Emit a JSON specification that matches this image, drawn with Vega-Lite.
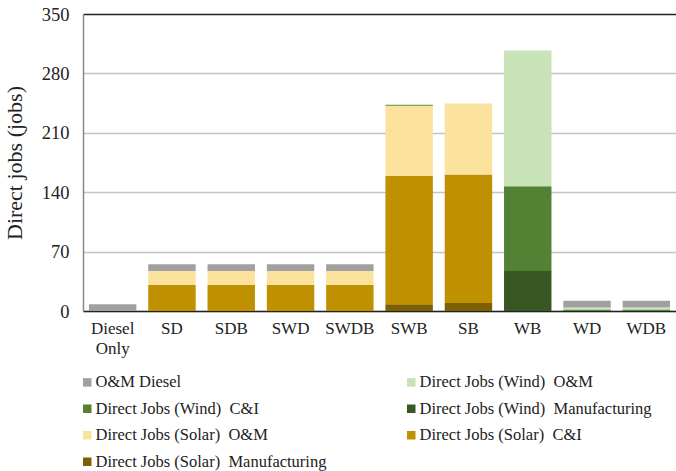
{
  "$schema": "https://vega.github.io/schema/vega-lite/v6.json",
  "autosize": "none",
  "width": 593,
  "height": 297,
  "padding": {"left": 83, "top": 14, "right": 0, "bottom": 160},
  "background": "white",
  "config": {
    "font": "Liberation Serif",
    "view": {"stroke": null},
    "axis": {"labelFont": "Liberation Serif", "titleFont": "Liberation Serif"},
    "legend": {"labelFont": "Liberation Serif", "titleFont": "Liberation Serif"}
  },
  "data": {
    "values": [
      {"scenario": "Diesel Only", "component": "O&M Diesel", "jobs": 8},
      {"scenario": "SD", "component": "Direct Jobs (Solar)\u00a0 C&I", "jobs": 31},
      {"scenario": "SD", "component": "Direct Jobs (Solar)\u00a0 O&M", "jobs": 16},
      {"scenario": "SD", "component": "O&M Diesel", "jobs": 8},
      {"scenario": "SDB", "component": "Direct Jobs (Solar)\u00a0 C&I", "jobs": 31},
      {"scenario": "SDB", "component": "Direct Jobs (Solar)\u00a0 O&M", "jobs": 16},
      {"scenario": "SDB", "component": "O&M Diesel", "jobs": 8},
      {"scenario": "SWD", "component": "Direct Jobs (Solar)\u00a0 C&I", "jobs": 31},
      {"scenario": "SWD", "component": "Direct Jobs (Solar)\u00a0 O&M", "jobs": 16},
      {"scenario": "SWD", "component": "O&M Diesel", "jobs": 8},
      {"scenario": "SWDB", "component": "Direct Jobs (Solar)\u00a0 C&I", "jobs": 31},
      {"scenario": "SWDB", "component": "Direct Jobs (Solar)\u00a0 O&M", "jobs": 16},
      {"scenario": "SWDB", "component": "O&M Diesel", "jobs": 8},
      {"scenario": "SWB", "component": "Direct Jobs (Solar)\u00a0 Manufacturing", "jobs": 8},
      {"scenario": "SWB", "component": "Direct Jobs (Solar)\u00a0 C&I", "jobs": 151.5},
      {"scenario": "SWB", "component": "Direct Jobs (Solar)\u00a0 O&M", "jobs": 82.5},
      {"scenario": "SWB", "component": "Direct Jobs (Wind)\u00a0 C&I", "jobs": 0.8},
      {"scenario": "SWB", "component": "Direct Jobs (Wind)\u00a0 O&M", "jobs": 0.8},
      {"scenario": "SB", "component": "Direct Jobs (Solar)\u00a0 Manufacturing", "jobs": 9.5},
      {"scenario": "SB", "component": "Direct Jobs (Solar)\u00a0 C&I", "jobs": 151.5},
      {"scenario": "SB", "component": "Direct Jobs (Solar)\u00a0 O&M", "jobs": 83.5},
      {"scenario": "WB", "component": "Direct Jobs (Wind)\u00a0 Manufacturing", "jobs": 47},
      {"scenario": "WB", "component": "Direct Jobs (Wind)\u00a0 C&I", "jobs": 100},
      {"scenario": "WB", "component": "Direct Jobs (Wind)\u00a0 O&M", "jobs": 160},
      {"scenario": "WD", "component": "Direct Jobs (Wind)\u00a0 C&I", "jobs": 1.8},
      {"scenario": "WD", "component": "Direct Jobs (Wind)\u00a0 O&M", "jobs": 2.2},
      {"scenario": "WD", "component": "O&M Diesel", "jobs": 8},
      {"scenario": "WDB", "component": "Direct Jobs (Wind)\u00a0 C&I", "jobs": 1.8},
      {"scenario": "WDB", "component": "Direct Jobs (Wind)\u00a0 O&M", "jobs": 2.2},
      {"scenario": "WDB", "component": "O&M Diesel", "jobs": 8}
    ]
  },
  "transform": [
    {"calculate": "indexof(['Direct Jobs (Solar)\u00a0 Manufacturing', 'Direct Jobs (Solar)\u00a0 C&I', 'Direct Jobs (Solar)\u00a0 O&M', 'Direct Jobs (Wind)\u00a0 Manufacturing', 'Direct Jobs (Wind)\u00a0 C&I', 'Direct Jobs (Wind)\u00a0 O&M', 'O&M Diesel'], datum.component)", "as": "stackIndex"}
  ],
  "mark": {"type": "bar"},
  "encoding": {
    "x": {
      "field": "scenario",
      "type": "nominal",
      "sort": ["Diesel Only", "SD", "SDB", "SWD", "SWDB", "SWB", "SB", "WB", "WD", "WDB"],
      "scale": {"paddingInner": 0.2, "paddingOuter": 0.1},
      "axis": {
        "title": null,
        "labelAngle": 0,
        "labelFontSize": 17,
        "labelColor": "#222",
        "labelPadding": 9,
        "labelLineHeight": 20,
        "labelExpr": "datum.value == 'Diesel Only' ? ['Diesel', 'Only'] : datum.value",
        "ticks": false,
        "domainColor": "#222",
        "domainWidth": 1.5
      }
    },
    "y": {
      "field": "jobs",
      "type": "quantitative",
      "stack": "zero",
      "scale": {"domain": [0, 350], "nice": false},
      "axis": {
        "title": "Direct jobs (jobs)",
        "titleFontSize": 22,
        "titleFontWeight": "normal",
        "titleColor": "#222",
        "titlePadding": 15,
        "values": [0, 70, 140, 210, 280, 350],
        "labelFontSize": 18.5,
        "labelColor": "#222",
        "labelPadding": 14,
        "ticks": false,
        "domainColor": "#888",
        "domainWidth": 1.5,
        "gridColor": {"condition": {"test": "datum.value === 350", "value": "#222"}, "value": "#c4c4c4"},
        "gridWidth": 1.5
      }
    },
    "order": {"field": "stackIndex", "type": "quantitative", "sort": "ascending"},
    "color": {
      "field": "component",
      "type": "nominal",
      "scale": {
        "domain": [
          "O&M Diesel",
          "Direct Jobs (Wind)\u00a0 O&M",
          "Direct Jobs (Wind)\u00a0 C&I",
          "Direct Jobs (Wind)\u00a0 Manufacturing",
          "Direct Jobs (Solar)\u00a0 O&M",
          "Direct Jobs (Solar)\u00a0 C&I",
          "Direct Jobs (Solar)\u00a0 Manufacturing"
        ],
        "range": ["#a0a0a0", "#c7e3b7", "#548235", "#385723", "#fbe29c", "#bf9000", "#7f6000"]
      },
      "legend": {
        "title": null,
        "orient": "none",
        "direction": "horizontal",
        "legendX": -4,
        "legendY": 360,
        "columns": 2,
        "columnPadding": 76,
        "rowPadding": 9.5,
        "symbolType": "square",
        "symbolSize": 72,
        "symbolStrokeWidth": 0,
        "symbolOffset": 0,
        "labelFontSize": 16.5,
        "labelColor": "#222",
        "labelOffset": 0,
        "labelLimit": 400
      }
    }
  }
}
